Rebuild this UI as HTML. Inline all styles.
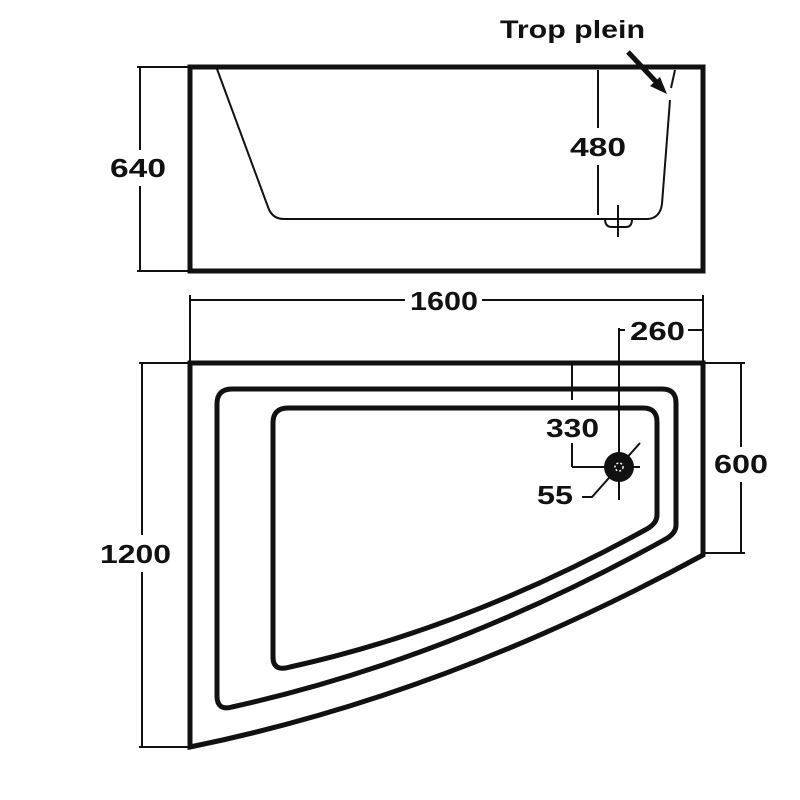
<!DOCTYPE html>
<html><head><style>body{margin:0;background:#fff}svg{display:block}text{font-family:"Liberation Sans",Arial,sans-serif;font-weight:bold;fill:#111}</style></head>
<body>
<svg width="800" height="800" viewBox="0 0 800 800">
<rect width="800" height="800" fill="#fff"/>
<g stroke="#111" fill="none">
<!-- top view -->
<rect x="190" y="67" width="513" height="204" stroke-width="5"/>
<path d="M217,69 L268,207 Q272,219 284,219 L648,219 Q660,218 662,204 L670,100" stroke-width="2"/>
<path d="M671,88 L675,70" stroke-width="2"/>
<path d="M605,219 Q605,227 612,227 L626,227 Q632,227 632,219" stroke-width="2"/>
<path d="M618,205 V237" stroke-width="2"/>
<path d="M598,70 V128 M598,165 V215" stroke-width="2"/>
<path d="M140,67 V150 M140,186 V271 M137,67 H190 M137,271 H190" stroke-width="2"/>
<!-- arrow -->
<path d="M628,52 L660,86" stroke-width="5"/>
</g>
<path d="M667,94 L650,86 L660,77 Z" fill="#111"/>
<text x="500" y="38" font-size="25" textLength="145" lengthAdjust="spacingAndGlyphs">Trop plein</text>
<text x="110" y="177" font-size="26" textLength="56" lengthAdjust="spacingAndGlyphs">640</text>
<text x="570" y="156" font-size="26" textLength="56" lengthAdjust="spacingAndGlyphs">480</text>
<!-- 1600 -->
<g stroke="#111" fill="none" stroke-width="2">
<path d="M190,295 V362 M703,295 V362 M190,300 H405 M482,300 H703"/>
</g>
<text x="410" y="310" font-size="26" textLength="68" lengthAdjust="spacingAndGlyphs">1600</text>
<!-- bottom view -->
<g stroke="#111" fill="none">
<path d="M190,363 H703 V555 Q446,695 190,747 Z" stroke-width="5"/>
<path d="M232,389 H662 Q676,389 676,403 V525 Q676,534 664,540 Q449,659 232,707 Q217,711 217,696 V404 Q217,389 232,389 Z" stroke-width="5"/>
<path d="M288,408 H643 Q657,408 657,422 V515 Q657,524 645,530 Q467,628 290,667 Q273,672 273,657 V423 Q273,408 288,408 Z" stroke-width="5"/>
<g stroke-width="2">
<path d="M619,328 V500 M572,467 H640 M572,363 V400 M572,443 V467"/>
<path d="M619,330 H625 M688,330 H703"/>
<path d="M640,443 L592,497 H582"/>
<path d="M705,363 H745 M705,553 H745 M741,363 V447 M741,482 V553"/>
<path d="M139,363 H190 M139,747 H190 M142,363 V535 M142,572 V747"/>
</g>
</g>
<circle cx="619" cy="467" r="15" fill="#111"/>
<circle cx="619" cy="467" r="4" fill="none" stroke="#fff" stroke-width="1.5" stroke-dasharray="2 2"/>
<text x="630" y="340" font-size="26" textLength="55" lengthAdjust="spacingAndGlyphs">260</text>
<text x="546" y="437" font-size="26" textLength="53" lengthAdjust="spacingAndGlyphs">330</text>
<text x="537" y="504" font-size="26" textLength="36" lengthAdjust="spacingAndGlyphs">55</text>
<text x="714" y="473" font-size="26" textLength="54" lengthAdjust="spacingAndGlyphs">600</text>
<text x="100" y="563" font-size="26" textLength="71" lengthAdjust="spacingAndGlyphs">1200</text>
</svg>
</body></html>
